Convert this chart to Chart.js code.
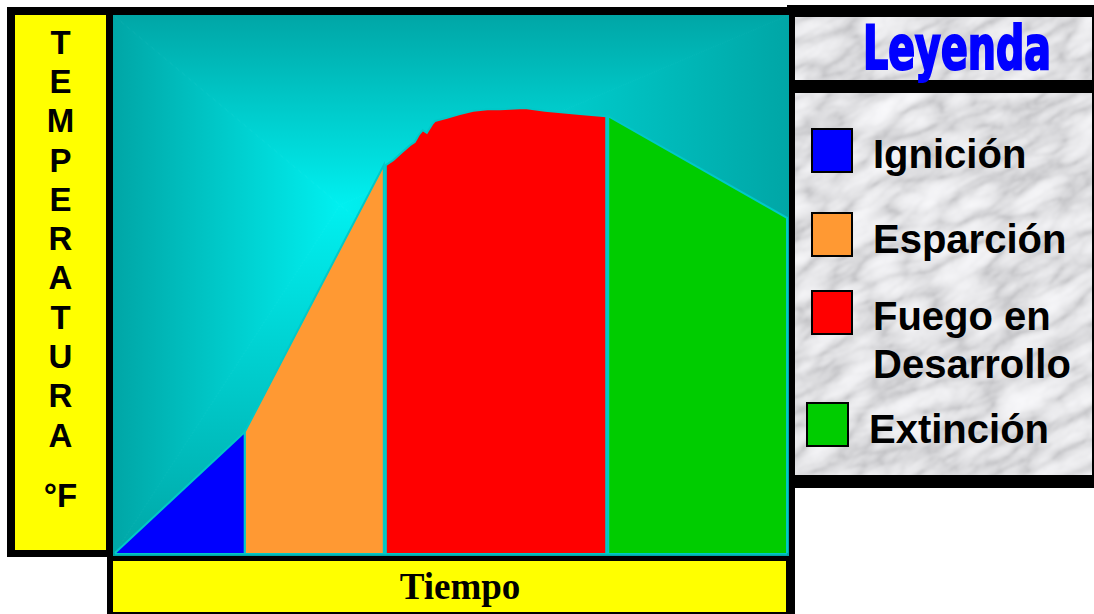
<!DOCTYPE html>
<html lang="es">
<head>
<meta charset="utf-8">
<title>Etapas del fuego</title>
<script src="https://cdn.jsdelivr.net/npm/chart.js@4.4.1/dist/chart.umd.min.js"></script>
<style>
  html, body { margin: 0; padding: 0; background: #fff; width: 1094px; height: 614px; overflow: hidden; }
  body { position: relative; font-family: "Liberation Sans", Arial, sans-serif; }
  .blk { position: absolute; background: #000; }
  .ylw { position: absolute; background: #ffff00; }
  .marble { position: absolute; background-color: #dcdcdc; background-size: 320px 520px; background-repeat: no-repeat; }
  #plot { position: absolute; left: 113px; top: 15px; width: 676px; height: 541px; }
  #ylabel { position: absolute; left: 15px; top: 22.7px; width: 91px; text-align: center;
            font-weight: bold; font-size: 33px; line-height: 39.3px; color: #000; }
  #ylabel .unit { margin-top: 20.7px; }
  #xlabel { position: absolute; left: 113px; top: 561px; width: 694px; height: 51px; text-align: center;
            font-family: "Liberation Serif", "Times New Roman", serif; font-weight: bold; font-size: 37px;
            line-height: 51px; color: #000; }
  .sw { position: absolute; box-sizing: border-box; border: 2px solid #000; }
  .lt { position: absolute; font-weight: bold; font-size: 40px; line-height: 40px; color: #000; white-space: nowrap; }
</style>
</head>
<body>
  <!-- temperature label box -->
  <div class="blk" style="left:7px;top:7px;width:108px;height:550px"></div>
  <div class="ylw" style="left:15px;top:15px;width:91px;height:535px"></div>
  <div id="ylabel"></div>

  <!-- frame round the plot -->
  <div class="blk" style="left:7px;top:7px;width:788px;height:8px"></div>
  <div class="blk" style="left:787px;top:7px;width:8px;height:554px"></div>

  <!-- time label box -->
  <div class="blk" style="left:107px;top:555px;width:688px;height:59px"></div>
  <div class="ylw" style="left:113px;top:561px;width:673px;height:51px"></div>
  <div id="xlabel"></div>

  <!-- legend -->
  <div class="blk" style="left:787px;top:5px;width:307px;height:483px"></div>
  <div class="marble" style="left:795px;top:17px;width:297px;height:63px"></div>
  <div class="marble" style="left:795px;top:93px;width:297px;height:382px"></div>
  <div id="legendItems"></div>
  <div id="legendTitleWrap"></div>

  <div id="plot"><canvas id="chart"></canvas></div>

<script>
// Fire stages: time (0-100) against temperature (°F, relative 0-1000)
const stageLabels = ['Ignición', 'Esparción', 'Fuego en Desarrollo', 'Extinción'];

const ignicionTime = [0, 19.3, 19.3];
const ignicionTemp = [0, 225, 0];

const esparcionTime = [19.3, 19.3, 40.0, 40.0];
const esparcionTemp = [0, 225, 721, 0];

const desarrolloTime = [40.3, 40.3, 41.4, 42.7, 43.9, 44.6, 45.2, 45.8, 46.4, 47.2, 47.6, 49.4, 51.3, 53.3, 55.4, 57.3, 61.0, 64.0, 69.2, 73.1, 73.1];
const desarrolloTemp = [0, 721, 730, 745, 758, 764, 777, 786, 781, 797, 803, 809, 816, 822, 825, 825, 827, 822, 816, 812, 0];

const extincionTime = [73.4, 73.4, 100, 100];
const extincionTemp = [0, 812, 623, 0];

const baselineTime = [0, 100];
const baselineTemp = [0, 0];

const yAxisTitle = 'TEMPERATURA';
const yAxisUnit = '°F';
const xAxisTitle = 'Tiempo';
const legendTitle = 'Leyenda';

const stageColors = ['#0000ff', '#ff9933', '#ff0000', '#00cc00'];
const edgeStroke = '#00c8c8';

function points(xs, ys) { return xs.map((x, i) => ({ x: x, y: ys[i] })); }

// axis titles
const yl = document.getElementById('ylabel');
for (const ch of yAxisTitle) {
  const d = document.createElement('div'); d.textContent = ch; yl.appendChild(d);
}
const u = document.createElement('div'); u.className = 'unit'; u.textContent = yAxisUnit; yl.appendChild(u);
document.getElementById('xlabel').textContent = xAxisTitle;

// marble texture for the legend panels
const marbleSvg =
  "<svg xmlns='http://www.w3.org/2000/svg' width='320' height='520'>" +
  "<filter id='m' filterUnits='userSpaceOnUse' x='-400' y='-400' width='1100' height='1300'>" +
  "<feTurbulence type='turbulence' baseFrequency='0.016 0.04' numOctaves='5' seed='11'/>" +
  "<feColorMatrix type='matrix' values='1 0 0 0 0  1 0 0 0 0  1 0 0 0 0  0 0 0 0 1'/>" +
  "<feComponentTransfer><feFuncR type='table' tableValues='0.5 0.68 0.8 0.88 0.93 0.96'/>" +
  "<feFuncG type='table' tableValues='0.5 0.68 0.8 0.88 0.93 0.96'/>" +
  "<feFuncB type='table' tableValues='0.52 0.7 0.82 0.9 0.95 0.98'/></feComponentTransfer>" +
  "<feGaussianBlur stdDeviation='1.2'/></filter>" +
  "<g transform='rotate(-28 160 260)'><rect x='-400' y='-400' width='1100' height='1300' filter='url(#m)'/></g></svg>";
const marbleUrl = 'url("data:image/svg+xml;charset=utf-8,' + encodeURIComponent(marbleSvg) + '")';
document.querySelectorAll('.marble').forEach((el, i) => {
  el.style.backgroundImage = marbleUrl;
  el.style.backgroundPosition = i === 0 ? '-12px -20px' : '-8px -110px';
});

// legend title, narrowed and thickened to a condensed heavy look
const ltWrap = document.getElementById('legendTitleWrap');
const lt = document.createElement('div');
lt.style.cssText = 'position:absolute;left:863px;top:18px;white-space:nowrap;transform-origin:0 0;' +
  'font-family:"DejaVu Sans Condensed","DejaVu Sans",sans-serif;font-weight:bold;color:#0000ff;' +
  'font-size:60px;line-height:60px;-webkit-text-stroke:2.2px #0000ff;';
lt.textContent = legendTitle;
ltWrap.appendChild(lt);
const ltw = lt.getBoundingClientRect().width;
lt.style.transform = 'scaleX(' + (188 / ltw) + ')';

// legend entries
const items = document.getElementById('legendItems');
const swatchBoxes = [[811, 128, 42, 45], [811, 212, 42, 45], [811, 290, 42, 45], [806, 402, 43, 45]];
const textPos = [[873, 134], [873, 219], [873, 292], [869, 409]];
stageLabels.forEach((lab, i) => {
  const s = document.createElement('div');
  s.className = 'sw';
  const b = swatchBoxes[i];
  s.style.left = b[0] + 'px'; s.style.top = b[1] + 'px'; s.style.width = b[2] + 'px'; s.style.height = b[3] + 'px';
  s.style.background = stageColors[i];
  items.appendChild(s);
  const t = document.createElement('div');
  t.className = 'lt';
  t.style.left = textPos[i][0] + 'px'; t.style.top = textPos[i][1] + 'px';
  if (i === 2) {
    t.style.lineHeight = '48px';
    const parts = lab.split(' ');
    t.appendChild(document.createTextNode(parts.slice(0, 2).join(' ')));
    t.appendChild(document.createElement('br'));
    t.appendChild(document.createTextNode(parts.slice(2).join(' ')));
  } else {
    t.textContent = lab;
  }
  items.appendChild(t);
});

// rectangular path gradient behind the plot
const panelGradient = {
  id: 'panelGradient',
  beforeDraw(chart) {
    const ctx = chart.ctx, W = chart.width, H = chart.height;
    const cx = 227, cy = 190;
    const edge = 'rgb(0,166,166)', mid = 'rgb(0,240,240)';
    const tri = (a, b, x0, y0, x1, y1) => {
      const g = ctx.createLinearGradient(x0, y0, x1, y1);
      g.addColorStop(0, edge); g.addColorStop(1, mid);
      ctx.fillStyle = g; ctx.strokeStyle = g; ctx.lineWidth = 1;
      ctx.beginPath(); ctx.moveTo(a[0], a[1]); ctx.lineTo(b[0], b[1]); ctx.lineTo(cx, cy); ctx.closePath();
      ctx.fill(); ctx.stroke();
    };
    ctx.save();
    tri([0, 0], [W, 0], cx, 0, cx, cy);
    tri([W, 0], [W, H], W, cy, cx, cy);
    tri([W, H], [0, H], cx, H, cx, cy);
    tri([0, H], [0, 0], 0, cy, cx, cy);
    ctx.restore();
  }
};

function stage(i, xs, ys) {
  return {
    label: stageLabels[i], data: points(xs, ys), fill: 'origin',
    backgroundColor: stageColors[i], borderColor: edgeStroke, borderWidth: 2,
    pointRadius: 0, tension: 0, clip: false
  };
}

new Chart(document.getElementById('chart'), {
  type: 'line',
  data: {
    datasets: [
      stage(0, ignicionTime, ignicionTemp),
      stage(1, esparcionTime, esparcionTemp),
      stage(2, desarrolloTime, desarrolloTemp),
      stage(3, extincionTime, extincionTemp),
      { label: 'base', data: points(baselineTime, baselineTemp), fill: false, borderColor: edgeStroke,
        borderWidth: 3, pointRadius: 0, clip: false }
    ]
  },
  options: {
    responsive: true, maintainAspectRatio: false, animation: false, events: [],
    layout: { padding: { left: 2, right: 2, top: 0, bottom: 3 } },
    plugins: { legend: { display: false }, tooltip: { enabled: false }, title: { display: false } },
    scales: {
      x: { type: 'linear', min: 0, max: 100, display: false },
      y: { type: 'linear', min: 0, max: 1000, display: false }
    }
  },
  plugins: [panelGradient]
});
</script>
</body>
</html>
